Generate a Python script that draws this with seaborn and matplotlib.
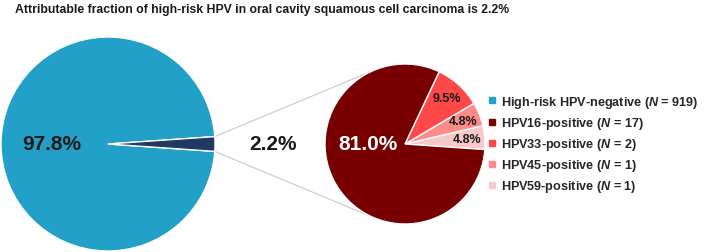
import numpy as np
import matplotlib
matplotlib.use("Agg")
import matplotlib.pyplot as plt
import seaborn as sns

sns.set_theme(style="white")

# 데이터
main_labels = ["High-risk HPV-negative", "High-risk HPV-positive"]
main_pct = [97.8, 2.2]
sub_labels = ["HPV59-positive", "HPV45-positive", "HPV33-positive", "HPV16-positive"]
sub_n = [1, 1, 2, 17]
sub_pct = [4.8, 4.8, 9.5, 81.0]
legend_order = ["High-risk HPV-negative", "HPV16-positive", "HPV33-positive",
                "HPV45-positive", "HPV59-positive"]
legend_n = [919, 17, 2, 1, 1]
title = "Attributable fraction of high-risk HPV in oral cavity squamous cell carcinoma is 2.2%"

main_colors = ["#23A0C8", "#1F3864"]
sub_colors = ["#F8C8C8", "#FF8A8A", "#FF4848", "#780000"]

# 폰트
plt.rcParams['font.family'] = ['Liberation Sans', 'DejaVu Sans']
plt.rcParams['mathtext.fontset'] = 'custom'
plt.rcParams['mathtext.it'] = 'Liberation Sans:bold:italic'
plt.rcParams['mathtext.rm'] = 'Liberation Sans:bold'

W, H = 709, 253
fig = plt.figure(figsize=(W / 100, H / 100), dpi=100)
ax = fig.add_axes([0, 0, 1, 1])

c_main = (108, 108)
r_main = 107
c_sub = (405, 108)
r_sub = 80

half = main_pct[1] / 100 * 360 / 2
wp = dict(edgecolor="white", linewidth=1.0)

# 왼쪽 파이 (2.2% 조각이 오른쪽 가운데로 오도록)
w_main, _ = ax.pie(main_pct, colors=main_colors, startangle=half,
                   center=c_main, radius=r_main, wedgeprops=wp)
ax.text(c_main[0] - 56, c_main[1], f"{main_pct[0]:.1f}%", ha="center", va="center",
        fontsize=15, fontweight="bold", color="#1a1a1a")

# 오른쪽 파이
w_sub, _, auto = ax.pie(sub_pct, colors=sub_colors, startangle=-4, counterclock=True,
                        center=c_sub, radius=r_sub, wedgeprops=wp,
                        autopct=lambda p: "", pctdistance=0.78)
for t, p in zip(auto[:3], sub_pct[:3]):
    t.set_text(f"{p:.1f}%")
    t.set_fontsize(9)
    t.set_fontweight("bold")
    t.set_color("#1a1a1a")
ax.text(c_sub[0] - 37, c_sub[1], f"{sub_pct[3]:.1f}%", ha="center", va="center",
        fontsize=15, fontweight="bold", color="white")

ax.text(273, c_main[1], f"{main_pct[1]:.1f}%",
        ha="center", va="center", fontsize=15, fontweight="bold", color="#1a1a1a")

# 연결선 (왼쪽 조각 끝 -> 오른쪽 원 접점)
for sgn in (1, -1):
    a = np.deg2rad(sgn * half)
    p = np.array([c_main[0] + r_main * np.cos(a), c_main[1] + r_main * np.sin(a)])
    d = p - np.array(c_sub)
    dist = np.hypot(*d)
    base = np.arctan2(d[1], d[0])
    ang = base - sgn * np.arccos(r_sub / dist)
    q = np.array([c_sub[0] + r_sub * np.cos(ang), c_sub[1] + r_sub * np.sin(ang)])
    ax.plot([p[0], q[0]], [p[1], q[1]], color="#C8C8C8", lw=0.8, zorder=0)

ax.set_xlim(0, W)
ax.set_ylim(0, H)
ax.set_aspect("equal")
ax.axis("off")

# 범례
colors_leg = [main_colors[0], sub_colors[3], sub_colors[2], sub_colors[1], sub_colors[0]]
handles = [plt.Line2D([], [], marker="s", linestyle="", markersize=5,
                      markerfacecolor=c, markeredgecolor=c) for c in colors_leg]
labels = [f"{l} ($N$ = {n})" for l, n in zip(legend_order, legend_n)]
ax.legend(handles, labels, loc="center left", bbox_to_anchor=(488 / W, 108 / H),
          frameon=False, prop=dict(size=9.1, weight="bold"), handlelength=0.6,
          handletextpad=0.45, labelspacing=0.4, borderaxespad=0, borderpad=0)

fig.text(15 / W, 1 - 10 / H, title, ha="left", va="center", fontsize=8.8,
         fontweight="bold", color="#1a1a1a")

fig.savefig("out.png", dpi=100)
